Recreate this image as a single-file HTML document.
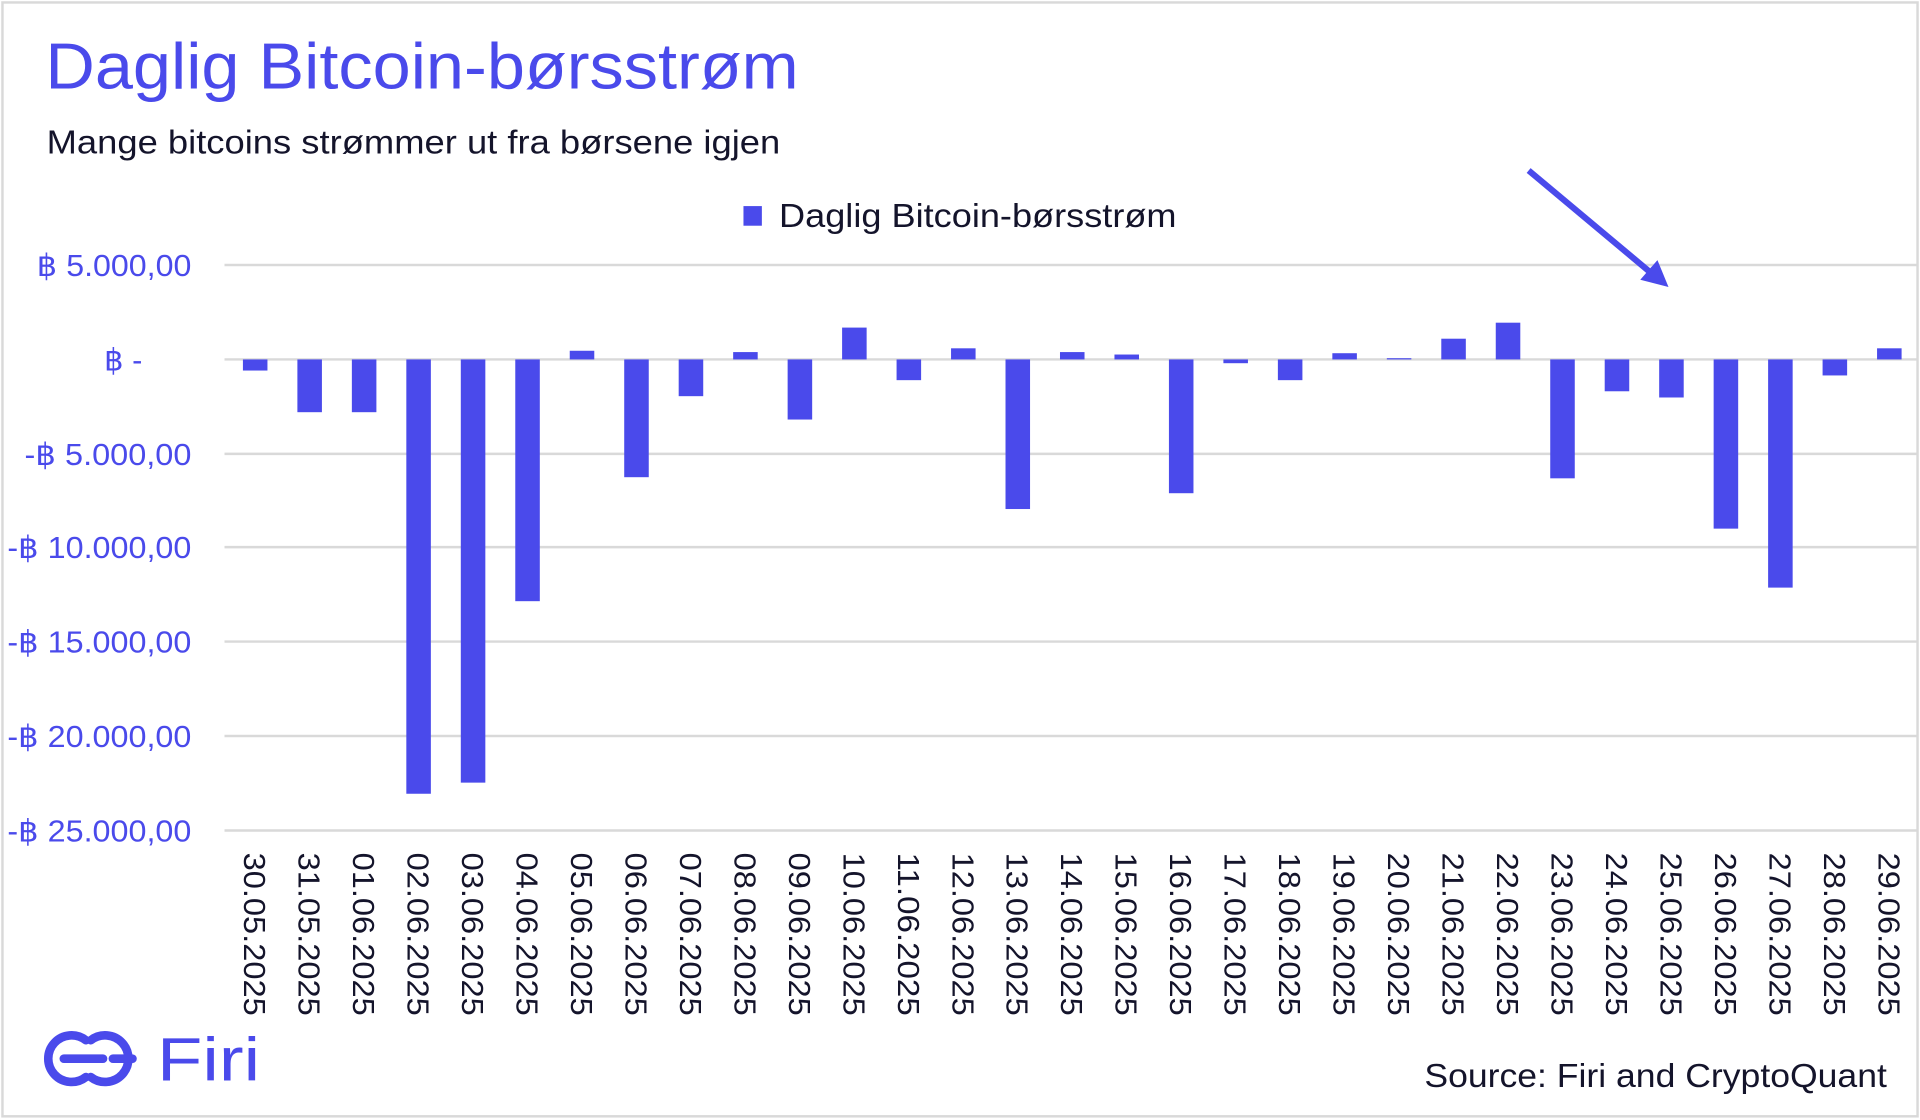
<!DOCTYPE html>
<html><head><meta charset="utf-8"><style>
html,body{margin:0;padding:0;background:#fff;}
svg{display:block;}
text{font-family:"Liberation Sans",sans-serif;}
</style></head><body>
<svg width="1920" height="1120" viewBox="0 0 1565 913" preserveAspectRatio="none" xmlns="http://www.w3.org/2000/svg">
<rect x="2" y="2" width="1561" height="908" fill="#fff" stroke="#d9d9d9" stroke-width="2"/>
<text x="37" y="72" font-size="53" fill="#4a4aeb" textLength="614" lengthAdjust="spacingAndGlyphs">Daglig Bitcoin-børsstrøm</text>
<text x="38" y="125" font-size="27" fill="#14142b" textLength="598" lengthAdjust="spacingAndGlyphs">Mange bitcoins strømmer ut fra børsene igjen</text>
<rect x="606" y="168" width="15" height="16" fill="#4a4aeb"/>
<text x="635" y="185" font-size="27" fill="#14142b" textLength="324" lengthAdjust="spacingAndGlyphs">Daglig Bitcoin-børsstrøm</text>
<g stroke="#d9d9d9" stroke-width="2">
<line x1="183" x2="1563" y1="216" y2="216"/><line x1="183" x2="1563" y1="293" y2="293"/>
<line x1="183" x2="1563" y1="370" y2="370"/><line x1="183" x2="1563" y1="446" y2="446"/>
<line x1="183" x2="1563" y1="523" y2="523"/><line x1="183" x2="1563" y1="600" y2="600"/>
<line x1="183" x2="1563" y1="677" y2="677"/>
</g>
<g font-size="25" fill="#4a4aeb" text-anchor="end">
<text x="156" y="225" textLength="126" lengthAdjust="spacingAndGlyphs">฿ 5.000,00</text><text x="116" y="302">฿ -</text>
<text x="156" y="379" textLength="136" lengthAdjust="spacingAndGlyphs">-฿ 5.000,00</text><text x="156" y="455" textLength="150" lengthAdjust="spacingAndGlyphs">-฿ 10.000,00</text>
<text x="156" y="532" textLength="150" lengthAdjust="spacingAndGlyphs">-฿ 15.000,00</text><text x="156" y="609" textLength="150" lengthAdjust="spacingAndGlyphs">-฿ 20.000,00</text>
<text x="156" y="686" textLength="150" lengthAdjust="spacingAndGlyphs">-฿ 25.000,00</text>
</g>
<g id="bars" fill="#4a4aeb"></g>
<g id="xl" font-size="25" fill="#14142b"></g>
<line x1="1246" y1="139" x2="1350" y2="226" stroke="#4a4aeb" stroke-width="5"/>
<polygon points="1360,234 1337,228 1351,212" fill="#4a4aeb"/>
<g fill="none" stroke="#4a4aeb" stroke-width="7" stroke-linecap="round">
<path d="M70 848 A19 19 0 1 0 70 878 M52 863 H84"/>
<path d="M74 878 A19 19 0 1 0 74 848 M92 863 H108"/>
</g>
<text x="128" y="881" font-size="50" fill="#4a4aeb" textLength="84" lengthAdjust="spacingAndGlyphs">Firi</text>
<text x="1538" y="886" font-size="27" fill="#14142b" text-anchor="end" textLength="377" lengthAdjust="spacingAndGlyphs">Source: Firi and CryptoQuant</text>
<script>
var v=[-590,-2800,-2800,-23050,-22460,-12830,460,-6250,-1950,390,-3190,1690,-1100,590,-7940,390,260,-7100,-200,-1100,330,65,1100,1950,-6310,-1690,-2020,-8980,-12110,-850,590];
var lab=["30.05.2025","31.05.2025"];for(var d=1;d<=29;d++)lab.push((d<10?"0":"")+d+".06.2025");
var ns="http://www.w3.org/2000/svg",b=document.getElementById("bars"),xl=document.getElementById("xl");
for(var i=0;i<31;i++){var cx=208+i*44.4,h=Math.abs(v[i])/5000*76.8,y=v[i]>=0?293-h:293;
var r=document.createElementNS(ns,"rect");r.setAttribute("x",cx-10);r.setAttribute("y",y);r.setAttribute("width",20);r.setAttribute("height",Math.max(h,1));b.appendChild(r);
var t=document.createElementNS(ns,"text");t.setAttribute("transform","translate("+(cx-9)+",695) rotate(90)");t.setAttribute("textLength","133");t.setAttribute("lengthAdjust","spacingAndGlyphs");t.textContent=lab[i];xl.appendChild(t);}
</script>
</svg>
</body></html>
